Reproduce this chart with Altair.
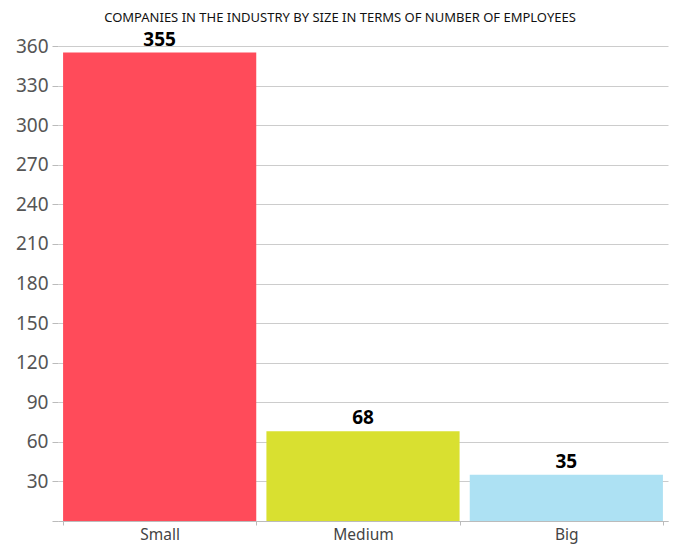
import altair as alt
import pandas as pd

categories = ["Small", "Medium", "Big"]
values = [355, 68, 35]
colors = ["#FF4B5A", "#D9E030", "#ADE1F3"]

df = pd.DataFrame({"size": categories, "count": values, "color": colors})

FONT = "Noto Sans"

base = alt.Chart(df).encode(
    x=alt.X("size:N", sort=categories, title=None,
            scale=alt.Scale(paddingInner=0.05, paddingOuter=0.025),
            axis=alt.Axis(labelAngle=0, labelFontSize=15.5, labelColor="#444", labelFont=FONT,
                          tickBand="extent", domainColor="#bbb", tickColor="#bbb",
                          tickSize=4, labelPadding=2)),
    y=alt.Y("count:Q", title=None,
            scale=alt.Scale(domain=[0, 360], nice=False),
            axis=alt.Axis(values=list(range(0, 361, 30)), labelFontSize=19, labelColor="#555",
                          labelFont=FONT, domain=False, tickColor="#bbb", tickSize=6,
                          gridColor="#cccccc", labelPadding=4, labelOverlap=False,
                          labelExpr="datum.value == 0 ? '' : datum.label")),
)

bars = base.mark_bar().encode(
    color=alt.Color("color:N", scale=None),
)

text = base.mark_text(baseline="bottom", dy=-3, fontSize=19, fontWeight="bold",
                      font=FONT, color="#000").encode(
    text="count:Q",
)

chart = (bars + text).properties(
    width=610, height=475,
    autosize=alt.AutoSizeParams(type="none"),
    padding={"left": 50, "top": 38, "right": 2, "bottom": 24},
    title=alt.TitleParams("COMPANIES IN THE INDUSTRY BY SIZE IN TERMS OF NUMBER OF EMPLOYEES",
                          font=FONT, fontSize=13, fontWeight="normal", color="#111",
                          anchor="middle", dx=-23, offset=6),
).configure_view(stroke=None)

chart.save("out.html", embed_options={"renderer": "svg", "actions": False})
